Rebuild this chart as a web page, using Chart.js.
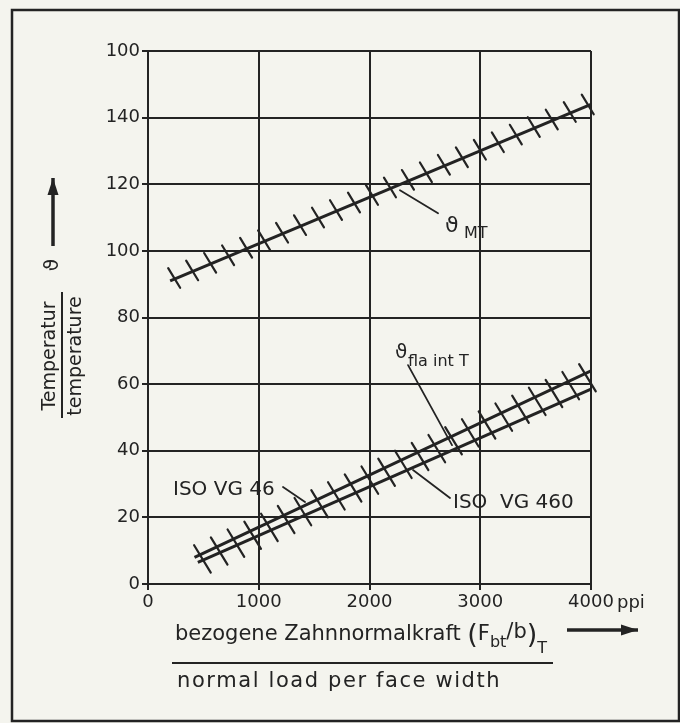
<!DOCTYPE html>
<html>
<head>
<meta charset="utf-8">
<script src="https://cdn.jsdelivr.net/npm/chart.js@4"></script>
<style>
  html, body { margin: 0; padding: 0; background: #f4f4ee; }
  canvas { display: block; }
</style>
</head>
<body>
<canvas id="myChart" width="680" height="723"></canvas>
<script>
// Werte
const xTickLabels = ['0', '1000', '2000', '3000', '4000'];
const yTickLabels = ['0', '20', '40', '60', '80', '100', '120', '140', '100'];

const mtX = [200, 4000];
const mtY = [91, 144];
const vg46X = [420, 4000];
const vg46Y = [8, 64];
const vg460X = [450, 4000];
const vg460Y = [6.5, 58.5];

const ink = '#232323';
const font = '"DejaVu Sans", sans-serif';

function pts(xs, ys) {
    return xs.map((x, i) => ({ x: x, y: ys[i] }));
}

// Beschriftungen im Diagramm (Datenkoordinaten)
const leaders = [
    [2275, 118.2, 2619, 111.3],
    [2348, 65.7, 2745, 41.7],
    [1219, 29.1, 1418, 24.6],
    [2393, 34.2, 2727, 25.8]
];

const hatchSpecs = [
    { ds: 0, len: 23, before: 0.55, spacing: 19.5, start: 5 },
    { ds: 1, len: 32, before: 0.35, spacing: 18.5, start: 6 }
];

const paperPlugin = {
    id: 'paper',
    beforeDraw(chart) {
        const ctx = chart.ctx;
        ctx.save();
        ctx.fillStyle = '#f4f4ee';
        ctx.fillRect(0, 0, chart.width, chart.height);
        ctx.restore();
    }
};

function arrow(ctx, x0, y0, x1, y1) {
    ctx.beginPath();
    ctx.moveTo(x0, y0);
    ctx.lineTo(x1, y1);
    ctx.stroke();
    const a = Math.atan2(y1 - y0, x1 - x0);
    ctx.beginPath();
    ctx.moveTo(x1, y1);
    ctx.lineTo(x1 - 17 * Math.cos(a) + 5.5 * Math.sin(a), y1 - 17 * Math.sin(a) - 5.5 * Math.cos(a));
    ctx.lineTo(x1 - 17 * Math.cos(a) - 5.5 * Math.sin(a), y1 - 17 * Math.sin(a) + 5.5 * Math.cos(a));
    ctx.closePath();
    ctx.fill();
}

const decoPlugin = {
    id: 'deco',
    afterDatasetsDraw(chart) {
        const ctx = chart.ctx;
        const xs = chart.scales.x, ys = chart.scales.y;
        ctx.save();
        ctx.strokeStyle = ink;
        ctx.fillStyle = ink;
        ctx.lineCap = 'round';

        // Schraffur an den Linien
        ctx.lineWidth = 2.2;
        const dx = 0.52, dy = 0.854;
        hatchSpecs.forEach(h => {
            const data = chart.data.datasets[h.ds].data;
            const a = data[0], b = data[data.length - 1];
            const x0 = xs.getPixelForValue(a.x), y0 = ys.getPixelForValue(a.y);
            const x1 = xs.getPixelForValue(b.x), y1 = ys.getPixelForValue(b.y);
            const L = Math.hypot(x1 - x0, y1 - y0);
            const ux = (x1 - x0) / L, uy = (y1 - y0) / L;
            for (let s = h.start; s < L - 2; s += h.spacing) {
                const cx = x0 + ux * s, cy = y0 + uy * s;
                ctx.beginPath();
                ctx.moveTo(cx - dx * h.len * h.before, cy - dy * h.len * h.before);
                ctx.lineTo(cx + dx * h.len * (1 - h.before), cy + dy * h.len * (1 - h.before));
                ctx.stroke();
            }
        });

        // Hinweislinien
        ctx.lineWidth = 1.8;
        leaders.forEach(l => {
            ctx.beginPath();
            ctx.moveTo(xs.getPixelForValue(l[0]), ys.getPixelForValue(l[1]));
            ctx.lineTo(xs.getPixelForValue(l[2]), ys.getPixelForValue(l[3]));
            ctx.stroke();
        });

        ctx.textBaseline = 'alphabetic';
        ctx.textAlign = 'left';
        // ϑ_MT
        let px = xs.getPixelForValue(2682), py = ys.getPixelForValue(105.6);
        ctx.font = '22px ' + font;
        ctx.fillText('ϑ', px, py);
        ctx.font = '16px ' + font;
        ctx.fillText('MT', px + 19, py + 6);
        // ϑ_fla int T
        px = xs.getPixelForValue(2230); py = ys.getPixelForValue(66.6);
        ctx.font = '20px ' + font;
        ctx.fillText('ϑ', px, py - 4);
        ctx.font = '16px ' + font;
        ctx.fillText('fla int T', px + 13, py + 4);
        // ISO VG
        ctx.font = '20px ' + font;
        ctx.fillText('ISO VG 46', xs.getPixelForValue(226), ys.getPixelForValue(26.7));
        ctx.fillText('ISO  VG 460', xs.getPixelForValue(2754), ys.getPixelForValue(22.8));
        ctx.restore();
    },
    afterDraw(chart) {
        const ctx = chart.ctx;
        ctx.save();
        ctx.strokeStyle = ink;
        ctx.fillStyle = ink;

        // Rahmen
        ctx.lineWidth = 2.5;
        ctx.strokeRect(12, 10, 667, 711);

        // Einheit
        ctx.font = '18px ' + font;
        ctx.textBaseline = 'alphabetic';
        ctx.fillText('ppi', 617, 608);

        // x-Achsentitel
        let x = 175;
        const base = 640;
        const put = (t, f, dy) => {
            ctx.font = f;
            ctx.fillText(t, x, base + dy);
            x += ctx.measureText(t).width;
        };
        put('bezogene Zahnnormalkraft ', '21px ' + font, 0);
        put('(', '27px ' + font, 3);
        put('F', '21px ' + font, 0);
        put('bt', '16px ' + font, 7);
        put('/', '21px ' + font, -2);
        put('b', '21px ' + font, -2);
        put(')', '27px ' + font, 3);
        put('T', '16px ' + font, 13);

        ctx.lineWidth = 2;
        ctx.beginPath();
        ctx.moveTo(172, 663);
        ctx.lineTo(553, 663);
        ctx.stroke();

        ctx.font = '21px ' + font;
        ctx.letterSpacing = '1.6px';
        ctx.fillText('normal load per face width', 177, 687);
        ctx.letterSpacing = '0px';

        ctx.lineWidth = 3.5;
        arrow(ctx, 567, 630, 638, 630);

        // y-Achsentitel
        ctx.save();
        ctx.translate(0, 356);
        ctx.rotate(-Math.PI / 2);
        ctx.textAlign = 'center';
        ctx.textBaseline = 'middle';
        ctx.font = '19px ' + font;
        ctx.fillText('Temperatur', 0, 50);
        ctx.fillText('temperature', 0, 76);
        ctx.restore();
        ctx.lineWidth = 2;
        ctx.beginPath();
        ctx.moveTo(62, 292);
        ctx.lineTo(62, 418);
        ctx.stroke();

        ctx.save();
        ctx.translate(53, 265);
        ctx.rotate(-Math.PI / 2);
        ctx.textAlign = 'center';
        ctx.textBaseline = 'middle';
        ctx.font = '20px ' + font;
        ctx.fillText('ϑ', 0, 0);
        ctx.restore();
        ctx.lineWidth = 3.5;
        arrow(ctx, 53, 246, 53, 178);
        ctx.restore();
    }
};

const ctx = document.getElementById('myChart').getContext('2d');
new Chart(ctx, {
    type: 'scatter',
    data: {
        datasets: [
            { label: 'ϑ MT', data: pts(mtX, mtY) },
            { label: 'ISO VG 46', data: pts(vg46X, vg46Y) },
            { label: 'ISO VG 460', data: pts(vg460X, vg460Y) }
        ]
    },
    options: {
        responsive: false,
        animation: false,
        showLine: true,
        layout: { padding: { left: 0, top: 51, right: 89, bottom: 0 } },
        elements: {
            point: { radius: 0, hoverRadius: 0 },
            line: { borderColor: ink, borderWidth: 3, tension: 0 }
        },
        plugins: {
            legend: { display: false },
            tooltip: { enabled: false }
        },
        scales: {
            x: {
                type: 'linear',
                min: 0,
                max: 4000,
                afterFit: s => { s.height = 139; },
                afterBuildTicks: s => { s.ticks = xTickLabels.map(v => ({ value: +v })); },
                ticks: {
                    color: ink,
                    font: { family: font, size: 18 },
                    padding: 2,
                    maxRotation: 0,
                    callback: (v, i) => xTickLabels[i]
                },
                grid: { color: ink, lineWidth: 2, tickLength: 6 },
                border: { color: ink, width: 2 }
            },
            y: {
                type: 'linear',
                min: 0,
                max: 160,
                afterFit: s => { s.width = 148; },
                afterBuildTicks: s => { s.ticks = yTickLabels.map((v, i) => ({ value: i * 20 })); },
                ticks: {
                    color: ink,
                    font: { family: font, size: 18 },
                    padding: 2,
                    callback: (v, i) => yTickLabels[i]
                },
                grid: { color: ink, lineWidth: 2, tickLength: 6 },
                border: { color: ink, width: 2 }
            }
        }
    },
    plugins: [paperPlugin, decoPlugin]
});
</script>
</body>
</html>
